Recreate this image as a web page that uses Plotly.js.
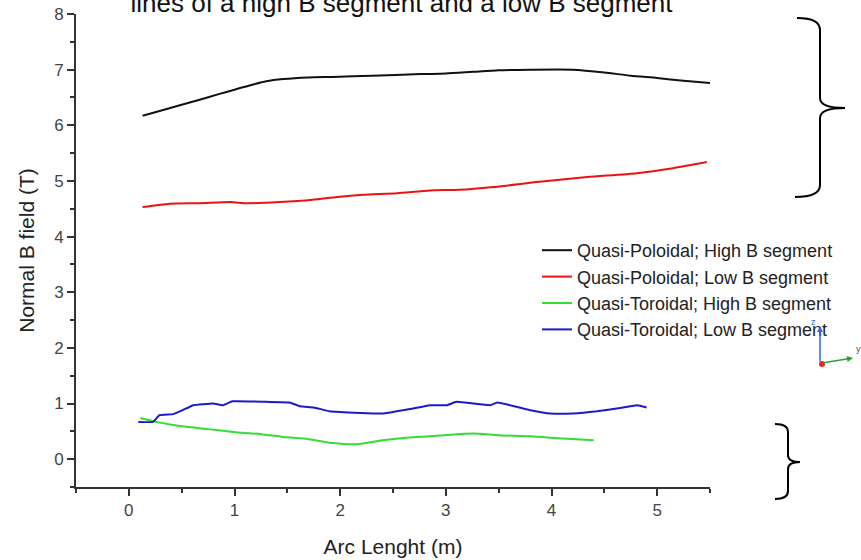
<!DOCTYPE html>
<html>
<head>
<meta charset="utf-8">
<script src="https://cdn.plot.ly/plotly-3.0.1.min.js"></script>
<style>
  html, body { margin: 0; padding: 0; background: #ffffff; }
  #chart { width: 861px; height: 560px; }
</style>
</head>
<body>
<div id="chart"></div>
<script>
// ---- data ----
const seriesNames = [
  "Quasi-Poloidal; High B segment",
  "Quasi-Poloidal; Low B segment",
  "Quasi-Toroidal; High B segment",
  "Quasi-Toroidal; Low B segment"
];

const qpHighX = [0.13, 0.3, 0.5, 0.67, 0.85, 1.0, 1.15, 1.3, 1.46, 1.7, 1.93, 2.3, 2.76, 3.0, 3.25, 3.5, 3.8, 4.2, 4.5, 4.75, 5.0, 5.25, 5.5];
const qpHighY = [6.17, 6.26, 6.37, 6.46, 6.56, 6.64, 6.72, 6.79, 6.83, 6.86, 6.87, 6.89, 6.92, 6.93, 6.96, 6.99, 7.0, 7.0, 6.95, 6.89, 6.85, 6.8, 6.76];

const qpLowX = [0.13, 0.39, 0.67, 0.96, 1.12, 1.43, 1.74, 1.97, 2.22, 2.54, 2.85, 3.13, 3.45, 3.86, 4.34, 4.81, 5.15, 5.47];
const qpLowY = [4.53, 4.59, 4.6, 4.62, 4.6, 4.62, 4.66, 4.71, 4.75, 4.78, 4.83, 4.84, 4.89, 4.98, 5.07, 5.14, 5.23, 5.34];

const qtHighX = [0.11, 0.26, 0.5, 0.75, 0.99, 1.25, 1.46, 1.7, 1.93, 2.16, 2.4, 2.65, 2.85, 3.05, 3.26, 3.5, 3.8, 4.11, 4.4];
const qtHighY = [0.74, 0.67, 0.59, 0.54, 0.49, 0.45, 0.4, 0.36, 0.29, 0.27, 0.34, 0.39, 0.41, 0.44, 0.46, 0.43, 0.41, 0.37, 0.34];

const qtLowX = [0.09, 0.23, 0.29, 0.42, 0.51, 0.61, 0.8, 0.89, 0.98, 1.3, 1.52, 1.62, 1.75, 1.9, 2.19, 2.41, 2.66, 2.85, 3.01, 3.1, 3.42, 3.49, 3.8, 3.99, 4.2, 4.43, 4.68, 4.81, 4.9];
const qtLowY = [0.67, 0.67, 0.79, 0.81, 0.88, 0.97, 1.0, 0.97, 1.04, 1.03, 1.02, 0.95, 0.93, 0.86, 0.83, 0.82, 0.9, 0.97, 0.97, 1.03, 0.97, 1.02, 0.88, 0.82, 0.82, 0.86, 0.93, 0.97, 0.93];

const xTickVals = [0, 1, 2, 3, 4, 5];
const yTickVals = [0, 1, 2, 3, 4, 5, 6, 7, 8];

const titleText = "lines of a high B segment and a low B segment";
const xTitle = "Arc Lenght (m)";
const yTitle = "Normal B field (T)";

// ---- styling / layout ----
const FONT = "Arial, 'Liberation Sans', sans-serif";
const W = 861, H = 560;
const M = {l: 76, r: 151, t: 14, b: 73};
const PW = W - M.l - M.r, PH = H - M.t - M.b;
const px = v => (v - M.l) / PW;          // pixel x -> paper x
const py = v => (H - M.b - v) / PH;      // pixel y -> paper y
const pathFrom = cmds => cmds.map(c => c[0] + ' ' + c.slice(1).reduce((s, v, i) =>
  s + (i % 2 === 0 ? px(v) : py(v)) + (i % 2 === 0 ? ',' : ' '), '')).join(' ');

const colors = ['#111111', '#ee1111', '#33dd33', '#1a1acc'];
const xs = [qpHighX, qpLowX, qtHighX, qtLowX];
const ys = [qpHighY, qpLowY, qtHighY, qtLowY];
const smooth = [0.6, 0.6, 0.6, 0.3];

const data = seriesNames.map((name, i) => ({
  type: 'scatter', mode: 'lines', name: name,
  x: xs[i], y: ys[i],
  line: {color: colors[i], width: 2, shape: 'spline', smoothing: smooth[i]}
}));

const bigBrace = pathFrom([
  ['M', 797, 18], ['Q', 820, 18, 820, 30], ['L', 820, 98], ['Q', 820, 108, 845, 108],
  ['Q', 820, 108, 820, 118], ['L', 820, 185], ['Q', 820, 197, 795, 197]
]);
const smallBrace = pathFrom([
  ['M', 775, 424], ['Q', 788, 424, 788, 432], ['L', 788, 455], ['Q', 788, 462, 800, 462],
  ['Q', 788, 462, 788, 469], ['L', 788, 491], ['Q', 788, 499, 775, 499]
]);

const axisCommon = {
  showline: true, linewidth: 2, linecolor: '#333333',
  ticks: 'outside', ticklen: 7, tickwidth: 2, tickcolor: '#333333',
  showgrid: false, zeroline: false,
  tickfont: {family: FONT, size: 17, color: '#444444'},
  minor: {dtick: 0.5, tick0: 0, ticks: 'outside', ticklen: 4, tickwidth: 2, tickcolor: '#333333', showgrid: false}
};

const layout = {
  width: W, height: H,
  margin: M,
  paper_bgcolor: '#ffffff', plot_bgcolor: '#ffffff',
  font: {family: FONT, color: '#222222'},
  title: {
    text: titleText, font: {family: FONT, size: 26, color: '#111111'},
    xref: 'paper', x: px(401.5), xanchor: 'center',
    yref: 'container', y: 1 - 3 / H, yanchor: 'middle'
  },
  xaxis: Object.assign({}, axisCommon, {
    range: [-0.5, 5.5], tickmode: 'array', tickvals: xTickVals,
    title: {text: xTitle, font: {family: FONT, size: 21, color: '#222222'}, standoff: 20}
  }),
  yaxis: Object.assign({}, axisCommon, {
    range: [-0.5, 8], tickmode: 'array', tickvals: yTickVals,
    title: {text: yTitle, font: {family: FONT, size: 21, color: '#222222'}, standoff: 14}
  }),
  showlegend: true,
  legend: {
    x: px(537), y: py(232), xanchor: 'left', yanchor: 'top',
    bgcolor: 'rgba(0,0,0,0)', borderwidth: 0,
    font: {family: FONT, size: 18, color: '#222222'},
    tracegroupgap: 0
  },
  shapes: [
    {type: 'path', xref: 'paper', yref: 'paper', path: bigBrace, line: {color: '#000000', width: 2}},
    {type: 'path', xref: 'paper', yref: 'paper', path: smallBrace, line: {color: '#000000', width: 2}},
    {type: 'circle', xref: 'paper', yref: 'paper', x0: px(819), x1: px(825), y0: py(367), y1: py(361),
     fillcolor: '#ee2222', line: {width: 0}}
  ],
  annotations: [
    {xref: 'paper', yref: 'paper', x: px(820), y: py(326), ax: 0, ay: 37, text: '',
     showarrow: true, arrowhead: 2, arrowsize: 0.8, arrowwidth: 1.5, arrowcolor: '#3366ee'},
    {xref: 'paper', yref: 'paper', x: px(853), y: py(358), ax: -31, ay: 5, text: '',
     showarrow: true, arrowhead: 2, arrowsize: 0.8, arrowwidth: 1.5, arrowcolor: '#22aa22'},
    {xref: 'paper', yref: 'paper', x: px(818), y: py(322), text: 'z', showarrow: false,
     font: {family: FONT, size: 9, color: '#3366ee'}},
    {xref: 'paper', yref: 'paper', x: px(854), y: py(356), text: 'y', showarrow: false, xanchor: 'left',
     font: {family: FONT, size: 9, color: '#555555'}}
  ]
};

Plotly.newPlot('chart', data, layout, {displayModeBar: false, staticPlot: true});
</script>
</body>
</html>
